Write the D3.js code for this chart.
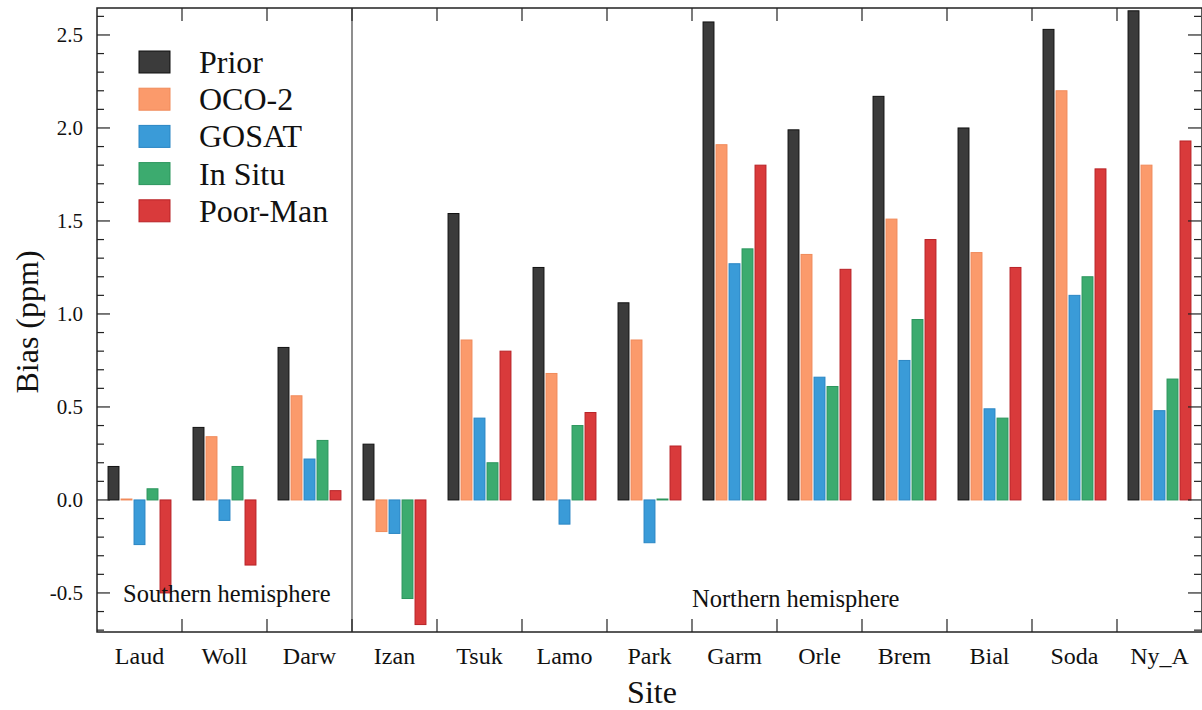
<!DOCTYPE html>
<html><head><meta charset="utf-8">
<script src="https://cdn.jsdelivr.net/npm/d3@7"></script>
<style>body{margin:0;background:#fff}svg{display:block}text{font-family:"Liberation Serif","Times New Roman",serif}</style>
</head><body><svg id="c" width="1202" height="710"></svg>
<script>
const sites = ["Laud","Woll","Darw","Izan","Tsuk","Lamo","Park","Garm","Orle","Brem","Bial","Soda","Ny_A"];
const seriesNames = ["Prior","OCO-2","GOSAT","In Situ","Poor-Man"];
const prior   = [0.18,0.39,0.82,0.30,1.54,1.25,1.06,2.57,1.99,2.17,2.00,2.53,2.63];
const oco2    = [0.005,0.34,0.56,-0.17,0.86,0.68,0.86,1.91,1.32,1.51,1.33,2.20,1.80];
const gosat   = [-0.24,-0.11,0.22,-0.18,0.44,-0.13,-0.23,1.27,0.66,0.75,0.49,1.10,0.48];
const insitu  = [0.06,0.18,0.32,-0.53,0.20,0.40,0.005,1.35,0.61,0.97,0.44,1.20,0.65];
const poorman = [-0.50,-0.35,0.05,-0.67,0.80,0.47,0.29,1.80,1.24,1.40,1.25,1.78,1.93];
const yTicks = [-0.5,0.0,0.5,1.0,1.5,2.0,2.5];

const seriesVals = [prior,oco2,gosat,insitu,poorman];
const fills = ["#3b3b3b","#fb9a6b","#3a9bd8","#3cab6f","#d93a3b"];
const strokes = ["#111","#f08a5a","#2a86c4","#2b955c","#b82226"];

const svg = d3.select("#c");
const L=97,R=1202,T=8,B=632;
const x = d3.scaleBand().domain(sites).range([L,R]).padding(0);
const inner = d3.scaleBand().domain(seriesNames).range([0,x.bandwidth()]).paddingInner(0.16).paddingOuter(0.85);
const y = d3.scaleLinear().domain([-0.71,2.645]).range([B,T]);

// bars
seriesNames.forEach((s,si)=>{
  svg.append("g").selectAll("rect").data(sites).join("rect")
    .attr("x",d=>x(d)+inner(s))
    .attr("width",inner.bandwidth())
    .attr("y",(d,i)=>y(Math.max(0,seriesVals[si][i])))
    .attr("height",(d,i)=>Math.max(0.8,Math.abs(y(seriesVals[si][i])-y(0))))
    .attr("fill",fills[si]).attr("stroke",strokes[si]).attr("stroke-width",1);
});

// frame
const ax = svg.append("g").attr("stroke","#222").attr("fill","none");
ax.append("rect").attr("x",L).attr("y",T).attr("width",R-L).attr("height",B-T).attr("stroke-width",1.5);
// divider
ax.append("line").attr("x1",x("Izan")).attr("x2",x("Izan")).attr("y1",T).attr("y2",B).attr("stroke","#444").attr("stroke-width",1.2);

// x boundary ticks
const bounds = sites.slice(1).map(d=>x(d));
bounds.forEach(bx=>{
  ax.append("line").attr("x1",bx).attr("x2",bx).attr("y1",B).attr("y2",B-13).attr("stroke-width",1.2);
  ax.append("line").attr("x1",bx).attr("x2",bx).attr("y1",T).attr("y2",T+13).attr("stroke-width",1.2);
});
// y ticks inward
const minor = d3.range(-7,27).map(v=>v/10).filter(v=>v>=-0.71&&v<=2.645);
minor.forEach(v=>{
  const isMajor = yTicks.some(t=>Math.abs(t-v)<1e-6);
  const len = isMajor?13:7;
  ax.append("line").attr("x1",L).attr("x2",L+len).attr("y1",y(v)).attr("y2",y(v)).attr("stroke-width",1.2);
  ax.append("line").attr("x1",R-1).attr("x2",R-1-len).attr("y1",y(v)).attr("y2",y(v)).attr("stroke-width",1.2);
});
// y labels
svg.append("g").selectAll("text").data(yTicks).join("text")
  .attr("x",83).attr("y",d=>y(d)+7).attr("text-anchor","end")
  .attr("font-size",21).attr("fill","#111").text(d=>d.toFixed(1));
// x labels
svg.append("g").selectAll("text").data(sites).join("text")
  .attr("x",d=>x(d)+x.bandwidth()/2).attr("y",664).attr("text-anchor","middle")
  .attr("font-size",24).attr("fill","#111").text(d=>d);
svg.append("text").attr("x",652).attr("y",703).attr("text-anchor","middle").attr("font-size",32).attr("fill","#111").text("Site");
svg.append("text").attr("transform","translate(38,322) rotate(-90)").attr("text-anchor","middle").attr("font-size",32).attr("fill","#111").text("Bias (ppm)");

svg.append("text").attr("x",123).attr("y",602).attr("font-size",24.5).attr("fill","#111").text("Southern hemisphere");
svg.append("text").attr("x",692).attr("y",607).attr("font-size",24.5).attr("fill","#111").text("Northern hemisphere");

// legend
const lg = svg.append("g");
seriesNames.forEach((s,i)=>{
  const cy = 62+i*37.2;
  lg.append("rect").attr("x",139).attr("y",cy-11).attr("width",31).attr("height",22)
    .attr("fill",fills[i]).attr("stroke",strokes[i]).attr("stroke-width",1);
  lg.append("text").attr("x",199).attr("y",cy+11).attr("font-size",32).attr("fill","#111").text(s);
});
</script></body></html>
